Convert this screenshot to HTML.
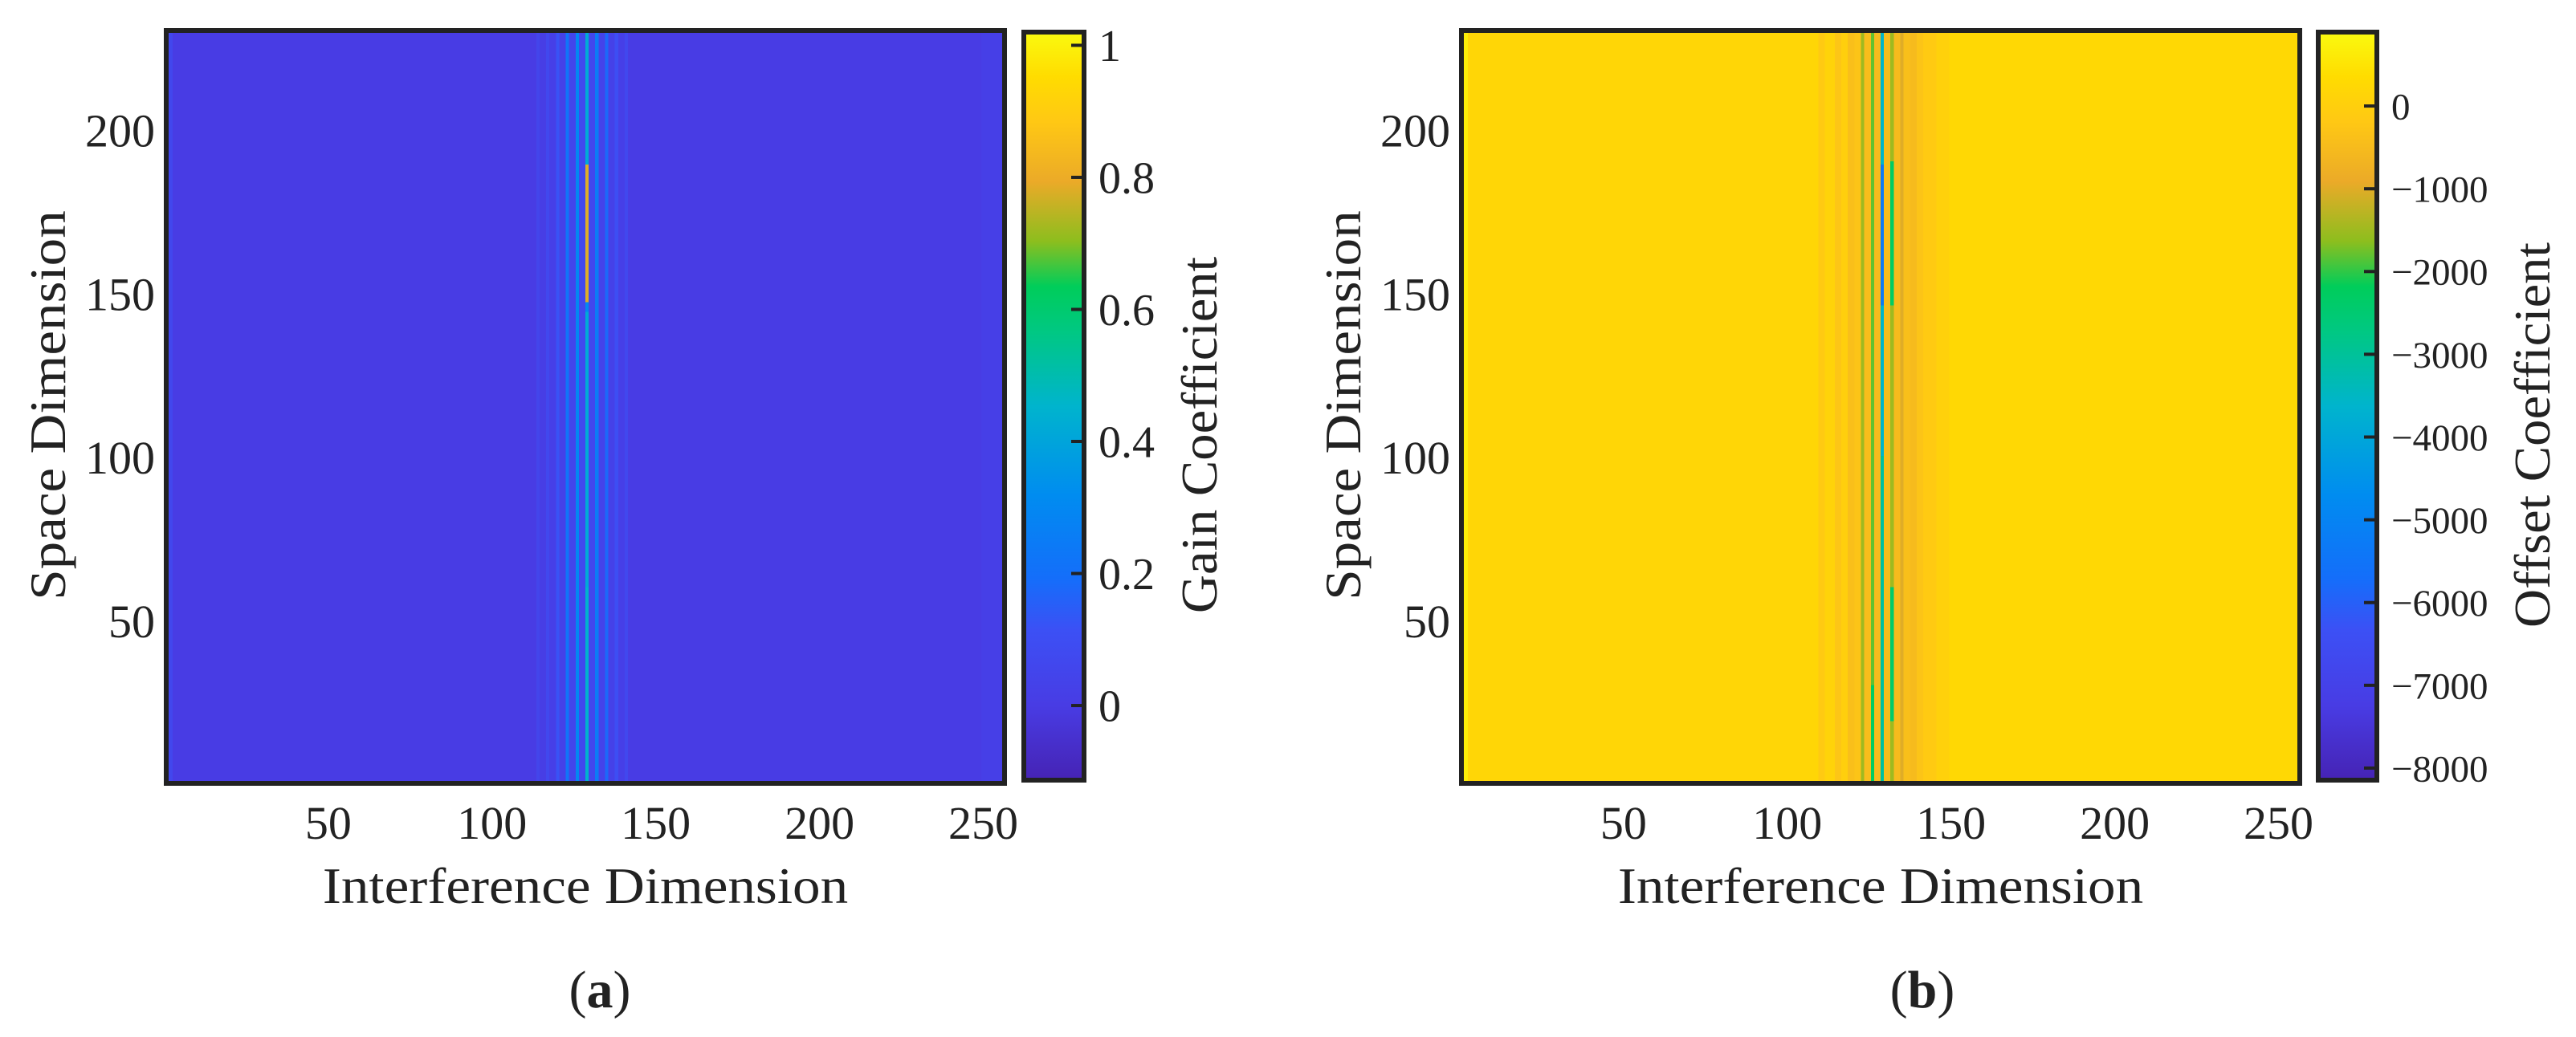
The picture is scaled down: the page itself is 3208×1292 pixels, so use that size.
<!DOCTYPE html>
<html><head><meta charset="utf-8"><style>
html,body{margin:0;padding:0;background:#fff;}
svg{display:block;font-family:"Liberation Serif",serif;}
</style></head><body>
<svg id="fig" width="3208" height="1292" viewBox="0 0 3208 1292" xmlns="http://www.w3.org/2000/svg">
<g id="pa"></g>
<g id="pb"></g>
</svg>
<script>
// ---------- data ----------
const xTicks = [50, 100, 150, 200, 250];
const yTicks = [50, 100, 150, 200];
const nCols = 256, nRows = 230;

// Gain: column runs [startCol, endCol, value]
const gainRunStart = [1, 3, 114, 115, 117, 118, 120, 121, 123, 124, 126, 127, 129, 130, 132, 133, 135, 136, 138, 139, 141, 142, 250];
const gainRunEnd   = [2, 113, 114, 116, 117, 119, 120, 122, 123, 125, 126, 128, 129, 131, 132, 134, 135, 137, 138, 140, 141, 249, 256];
const gainRunValue = [0.06, 0.0, 0.05, 0.01, 0.07, 0.02, 0.12, 0.03, 0.22, 0.05, 0.30, 0.07, 0.42, 0.06, 0.25, 0.04, 0.18, 0.03, 0.10, 0.02, 0.07, 0.0, 0.02];
// Gain: row segments inside a column [col, rowStart, rowEnd, value]
const gainSegCol   = [129, 129, 129];
const gainSegStart = [148, 145, 1];
const gainSegEnd   = [189, 147, 60];
const gainSegValue = [0.78, 0.30, 0.45];

// Offset: column runs
const offRunStart = [1, 3, 110, 112, 115, 117, 119, 121, 123, 124, 126, 127, 129, 130, 132, 133, 135, 136, 138, 140, 142, 146, 150];
const offRunEnd   = [2, 109, 111, 114, 116, 118, 120, 122, 123, 125, 126, 128, 129, 131, 132, 134, 135, 137, 139, 141, 145, 149, 256];
const offRunValue = [650, 200, -150, 100, -250, 0, -400, -300, -1500, -450, -1800, -500, -3600, -450, -1500, -500, -1000, -400, -500, -300, -150, 50, 250];
// Offset: row segments
const offSegCol   = [129, 129, 132, 126, 132];
const offSegStart = [147, 1, 147, 1, 20];
const offSegEnd   = [189, 100, 190, 30, 60];
const offSegValue = [-5300, -3100, -2300, -2300, -2400];

const gainCbTicks = [0, 0.2, 0.4, 0.6, 0.8, 1];
const gainCbLabels = ['0', '0.2', '0.4', '0.6', '0.8', '1'];
const offCbTicks = [0, -1000, -2000, -3000, -4000, -5000, -6000, -7000, -8000];
const offCbLabels = ['0', '\u22121000', '\u22122000', '\u22123000', '\u22124000', '\u22125000', '\u22126000', '\u22127000', '\u22128000'];

// ---------- colormap ----------
const cmT = [0, 0.1, 0.2, 0.27, 0.38, 0.5, 0.6, 0.66, 0.72, 0.8, 0.88, 0.94, 1];
const cmC = [[70,35,180],[72,60,228],[60,80,245],[20,110,250],[0,140,240],[0,180,205],[0,200,130],[0,205,90],[140,190,30],[235,170,40],[255,200,20],[255,220,0],[250,250,15]];
function cmap(t){
  t = Math.max(0, Math.min(1, t));
  for (let i = 1; i < cmT.length; i++) {
    if (t <= cmT[i]) {
      const f = (t - cmT[i-1]) / (cmT[i] - cmT[i-1]);
      const a = cmC[i-1], b = cmC[i];
      return 'rgb(' + [0,1,2].map(k => Math.round(a[k] + (b[k]-a[k])*f)).join(',') + ')';
    }
  }
  return 'rgb(250,250,15)';
}
const NS = 'http://www.w3.org/2000/svg';
function mk(tag, attrs, parent){
  const e = document.createElementNS(NS, tag);
  for (const k in attrs) e.setAttribute(k, attrs[k]);
  parent.appendChild(e);
  return e;
}

function panel(g, o){
  const X = v => o.x0 + (v - 0.5) / nCols * (o.x1 - o.x0);
  const Y = v => o.y1 - (v - 0.5) / nRows * (o.y1 - o.y0);
  const T = v => (v - o.vmin) / (o.vmax - o.vmin);
  const cells = mk('g', {'shape-rendering':'crispEdges'}, g);
  
  
  for (let i = 0; i < o.rs.length; i++) {
    const r = mk('rect', {x: X(o.rs[i]-0.5), y: o.y0, width: X(o.re[i]+0.5)-X(o.rs[i]-0.5)+0.6, height: o.y1-o.y0, fill: cmap(T(o.rv[i]))}, cells);
    
    
  }
  for (let i = 0; i < o.sc.length; i++) {
    const r = mk('rect', {x: X(o.sc[i]-0.5), y: Y(o.se[i]+0.5), width: X(o.sc[i]+0.5)-X(o.sc[i]-0.5), height: Y(o.ss[i]-0.5)-Y(o.se[i]+0.5), fill: cmap(T(o.sv[i]))}, cells);
    
    
  }
  const fr = mk('rect', {x: o.x0, y: o.y0, width: o.x1-o.x0, height: o.y1-o.y0, fill: 'none', stroke: '#222', 'stroke-width': 6}, g);
  
  
  for (const t of xTicks) {
    const tx = mk('text', {x: X(t), y: 1045, 'font-size': 58, 'text-anchor': 'middle', fill: '#222'}, g);
    tx.textContent = t;
    
    
  }
  for (const t of yTicks) {
    const ty = mk('text', {x: o.x0 - 14, y: Y(t) + 20, 'font-size': 58, 'text-anchor': 'end', fill: '#222'}, g);
    ty.textContent = t;
    
    
  }
  const xt = mk('text', {x: 0, y: 0, 'font-size': 64, 'text-anchor': 'middle', fill: '#222', transform: 'translate(' + ((o.x0+o.x1)/2) + ',1125) scale(1.08,1)'}, g);
  xt.textContent = 'Interference Dimension';
  
  
  const yt = mk('text', {x: 0, y: 0, 'font-size': 64, 'text-anchor': 'middle', fill: '#222', transform: 'translate(' + (o.x0 - 126) + ',505) rotate(-90) scale(1.08,1)'}, g);
  yt.textContent = 'Space Dimension';
  
  
  // colorbar
  const cb = mk('g', {}, g);
  
  
  const defs = mk('defs', {}, cb);
  const lg = mk('linearGradient', {id: o.id + 'grad', x1: 0, y1: 1, x2: 0, y2: 0}, defs);
  for (let i = 0; i < cmT.length; i++) mk('stop', {offset: cmT[i], 'stop-color': cmap(cmT[i])}, lg);
  const cy0 = 40, cy1 = 972;
  mk('rect', {x: o.cx0, y: cy0, width: o.cx1-o.cx0, height: cy1-cy0, fill: 'url(#' + o.id + 'grad)', stroke: '#222', 'stroke-width': 6}, cb);
  const CY = v => cy1 - T(v) * (cy1 - cy0);
  for (let i = 0; i < o.ct.length; i++) {
    mk('line', {x1: o.cx1-3, x2: o.cx1-16, y1: CY(o.ct[i]), y2: CY(o.ct[i]), stroke: '#222', 'stroke-width': 4}, cb);
    const lt = mk('text', {x: o.cx1 + 18, y: CY(o.ct[i]) + o.cfs*0.35, 'font-size': o.cfs, fill: '#222'}, cb);
    lt.textContent = o.cl[i];
    
    
  }
  const ct = mk('text', {x: 0, y: 0, 'font-size': 64, 'text-anchor': 'middle', fill: '#222', transform: 'translate(' + (o.ctx + 20) + ',542) rotate(-90) scale(1.04,1)'}, cb);
  ct.textContent = o.ctitle;
  
  
  const cap = mk('text', {x: o.capx, y: 1255, 'font-size': 66, 'text-anchor': 'middle', fill: '#222'}, g);
  cap.innerHTML = '(<tspan font-weight="bold">' + o.cap + '</tspan>)';
  
  
}

panel(document.getElementById('pa'), {id:'a', x0:207, x1:1251, y0:38, y1:976, vmin:-0.113, vmax:1.02,
  rs:gainRunStart, re:gainRunEnd, rv:gainRunValue, sc:gainSegCol, ss:gainSegStart, se:gainSegEnd, sv:gainSegValue,
  cx0:1275, cx1:1350, ct:gainCbTicks, cl:gainCbLabels, cfs:56, ctx:1495, ctitle:'Gain Coefficient', capx:747, cap:'a'});
panel(document.getElementById('pb'), {id:'b', x0:1820, x1:2864, y0:38, y1:976, vmin:-8146, vmax:893,
  rs:offRunStart, re:offRunEnd, rv:offRunValue, sc:offSegCol, ss:offSegStart, se:offSegEnd, sv:offSegValue,
  cx0:2887, cx1:2960, ct:offCbTicks, cl:offCbLabels, cfs:47, ctx:3155, ctitle:'Offset Coefficient', capx:2394, cap:'b'});
</script>
</body></html>
